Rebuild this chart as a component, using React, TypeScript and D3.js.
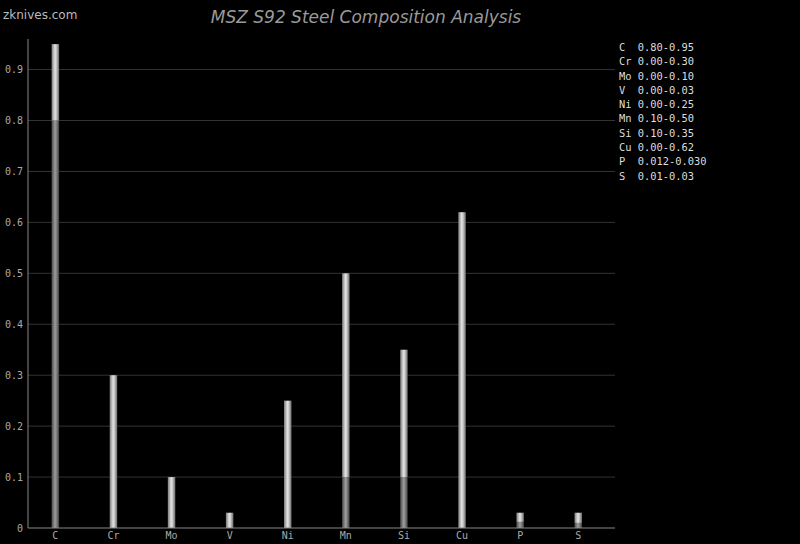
import React from "react";
import * as d3 from "d3";

const elements = ["C", "Cr", "Mo", "V", "Ni", "Mn", "Si", "Cu", "P", "S"];
const minValues = [0.8, 0, 0, 0, 0, 0.1, 0.1, 0, 0.012, 0.01];
const maxValues = [0.95, 0.3, 0.1, 0.03, 0.25, 0.5, 0.35, 0.62, 0.03, 0.03];
const legendLabels = [
  "C  0.80-0.95",
  "Cr 0.00-0.30",
  "Mo 0.00-0.10",
  "V  0.00-0.03",
  "Ni 0.00-0.25",
  "Mn 0.10-0.50",
  "Si 0.10-0.35",
  "Cu 0.00-0.62",
  "P  0.012-0.030",
  "S  0.01-0.03",
];
const yTicks = [0, 0.1, 0.2, 0.3, 0.4, 0.5, 0.6, 0.7, 0.8, 0.9];

const W = 800;
const H = 544;
const left = 28;
const right = 615;
const top = 39;
const bottom = 528;
const mono = "'DejaVu Sans Mono', 'Liberation Mono', monospace";

export default function App() {
  const x = d3.scaleBand<string>().domain(elements).range([26.3, 607.3]);
  const y = d3.scaleLinear().domain([0, 0.96]).range([bottom, top]);
  const bw = 7.5;
  const fmt = (v: number) => (v === 0 ? "0" : d3.format(".1f")(v));

  return (
    <div style={{ position: "fixed", left: 0, top: 0, width: W, height: H, background: "#000" }}>
      <svg width={W} height={H} style={{ display: "block" }}>
        <defs>
          <linearGradient id="gLight" x1="0" x2="1" y1="0" y2="0">
            <stop offset="0%" stopColor="#7a7a7a" />
            <stop offset="45%" stopColor="#e2e2e2" />
            <stop offset="60%" stopColor="#d0d0d0" />
            <stop offset="100%" stopColor="#6a6a6a" />
          </linearGradient>
          <linearGradient id="gDark" x1="0" x2="1" y1="0" y2="0">
            <stop offset="0%" stopColor="#4a4a4a" />
            <stop offset="45%" stopColor="#9a9a9a" />
            <stop offset="60%" stopColor="#8c8c8c" />
            <stop offset="100%" stopColor="#404040" />
          </linearGradient>
        </defs>
        <rect x={0} y={0} width={W} height={H} fill="#000" />
        <text x={3} y={19} fill="#bbb" fontFamily="'DejaVu Sans', sans-serif" fontSize={12}>
          zknives.com
        </text>
        <text
          x={366}
          y={23}
          fill="#9a9a9a"
          textAnchor="middle"
          fontFamily="'DejaVu Sans', sans-serif"
          fontStyle="italic"
          fontSize={17}
        >
          MSZ S92 Steel Composition Analysis
        </text>
        {yTicks.map((t) => (
          <g key={t}>
            {t > 0 && (
              <line x1={left} x2={right} y1={y(t)} y2={y(t)} stroke="#333" strokeWidth={1} />
            )}
            <text
              x={23}
              y={y(t)}
              dy="0.35em"
              textAnchor="end"
              fill="#aaa"
              fontFamily={mono}
              fontSize={10}
            >
              {fmt(t)}
            </text>
          </g>
        ))}
        {elements.map((e, i) => {
          const cx = (x(e) as number) + x.bandwidth() / 2;
          const y0 = y(0);
          const yMin = y(minValues[i]);
          const yMax = y(maxValues[i]);
          return (
            <g key={e}>
              {minValues[i] > 0 && (
                <rect x={cx - bw / 2} y={yMin} width={bw} height={y0 - yMin} fill="url(#gDark)" />
              )}
              <rect x={cx - bw / 2} y={yMax} width={bw} height={yMin - yMax} fill="url(#gLight)" />
              <text
                x={cx}
                y={539}
                textAnchor="middle"
                fill="#aaa"
                fontFamily={mono}
                fontSize={10}
              >
                {e}
              </text>
            </g>
          );
        })}
        <line x1={left} x2={left} y1={top} y2={bottom} stroke="#888" strokeWidth={1} />
        <line x1={left} x2={right} y1={bottom} y2={bottom} stroke="#888" strokeWidth={1} />
        {legendLabels.map((l, i) => (
          <text
            key={l}
            x={619}
            y={47.3 + i * 14.3}
            dy="0.35em"
            fill="#ddd"
            fontFamily={mono}
            fontSize={10.4}
            style={{ whiteSpace: "pre" }}
          >
            {l}
          </text>
        ))}
      </svg>
    </div>
  );
}
